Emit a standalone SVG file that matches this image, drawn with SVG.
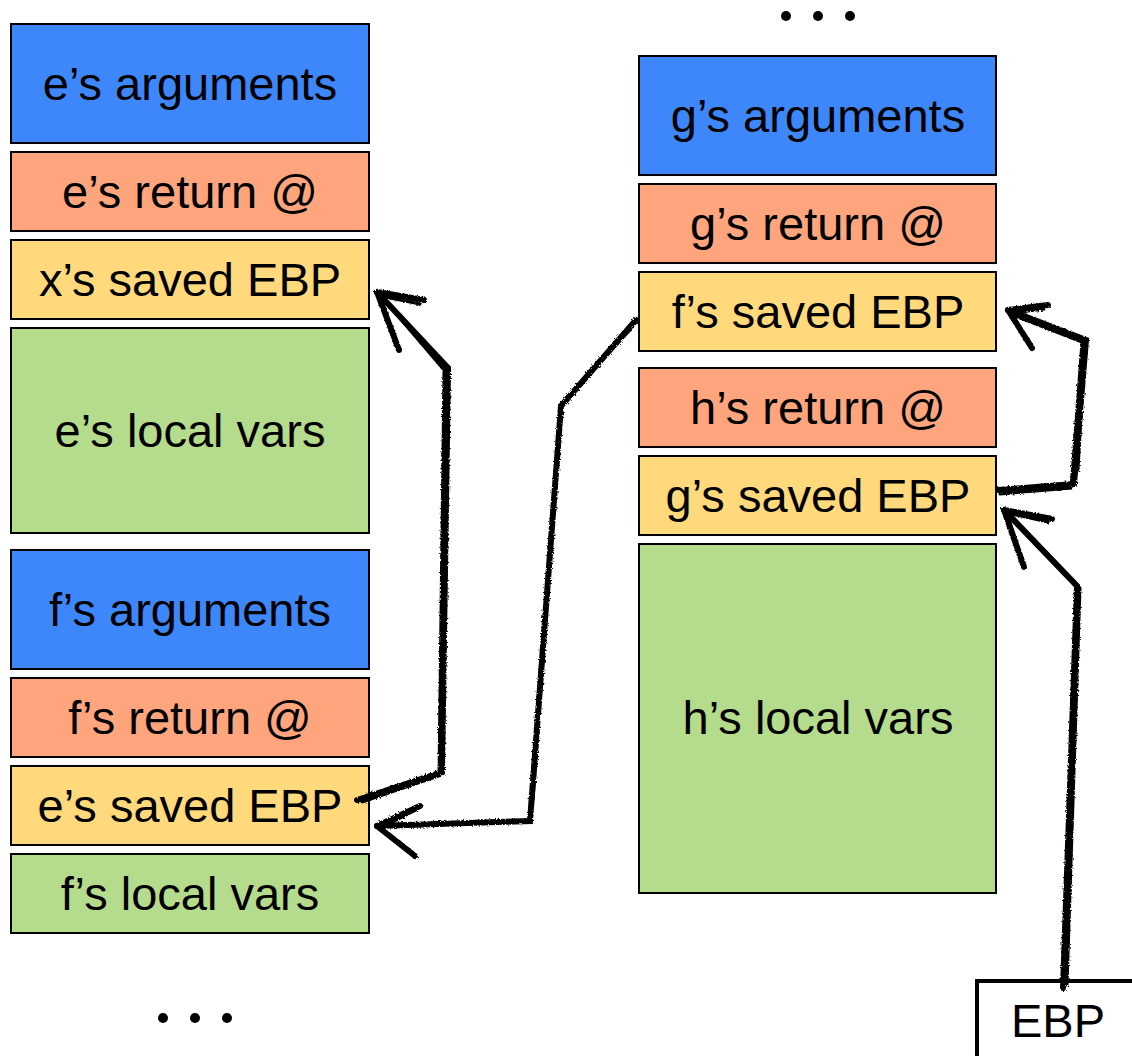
<svg xmlns="http://www.w3.org/2000/svg" width="1132" height="1056" viewBox="0 0 1132 1056">
<style>
.box{stroke:#000;stroke-width:2}
.arg{fill:#3d87fb}
.ret{fill:#ffa57d}
.ebp{fill:#ffd97c}
.loc{fill:#b5dc8c}
text{font-family:"Liberation Sans",Arial,sans-serif;font-size:47px;fill:#000;text-anchor:middle}
.arrow{fill:none;stroke:#000;stroke-width:6;stroke-linejoin:miter;stroke-linecap:round}
.thin{fill:none;stroke:#000;stroke-width:3;stroke-linecap:round}
</style>
<defs>
<filter id="rough" x="-5%" y="-5%" width="110%" height="110%">
<feTurbulence type="fractalNoise" baseFrequency="0.6" numOctaves="2" seed="3" result="n"/>
<feDisplacementMap in="SourceGraphic" in2="n" scale="3"/>
</filter>
</defs>
<rect width="1132" height="1056" fill="#fff"/>
<g id="e-args"><rect class="box arg" x="11" y="24" width="358" height="119"/><text x="190" y="100">e’s arguments</text></g>
<g id="e-ret"><rect class="box ret" x="11" y="152" width="358" height="79"/><text x="190" y="208">e’s return @</text></g>
<g id="x-ebp"><rect class="box ebp" x="11" y="240" width="358" height="79"/><text x="190" y="296">x’s saved EBP</text></g>
<g id="e-local"><rect class="box loc" x="11" y="328" width="358" height="205"/><text x="190" y="447">e’s local vars</text></g>
<g id="f-args"><rect class="box arg" x="11" y="550" width="358" height="119"/><text x="190" y="626">f’s arguments</text></g>
<g id="f-ret"><rect class="box ret" x="11" y="678" width="358" height="79"/><text x="190" y="734">f’s return @</text></g>
<g id="e-ebp"><rect class="box ebp" x="11" y="766" width="358" height="79"/><text x="190" y="822">e’s saved EBP</text></g>
<g id="f-local"><rect class="box loc" x="11" y="854" width="358" height="79"/><text x="190" y="910">f’s local vars</text></g>
<g id="g-args"><rect class="box arg" x="639" y="56" width="357" height="119"/><text x="818" y="132">g’s arguments</text></g>
<g id="g-ret"><rect class="box ret" x="639" y="184" width="357" height="79"/><text x="818" y="240">g’s return @</text></g>
<g id="f-ebp"><rect class="box ebp" x="639" y="272" width="357" height="79"/><text x="818" y="328">f’s saved EBP</text></g>
<g id="h-ret"><rect class="box ret" x="639" y="368" width="357" height="79"/><text x="818" y="424">h’s return @</text></g>
<g id="g-ebp"><rect class="box ebp" x="639" y="456" width="357" height="79"/><text x="818" y="512">g’s saved EBP</text></g>
<g id="h-local"><rect class="box loc" x="639" y="544" width="357" height="349"/><text x="818" y="734">h’s local vars</text></g>
<g id="ebp-reg"><path d="M977 1060 V981 H1136" fill="none" stroke="#000" stroke-width="4"/><text x="1058" y="1037">EBP</text></g>
<g id="dots-top"><circle cx="786" cy="16" r="5"/><circle cx="818" cy="16" r="5"/><circle cx="850" cy="16" r="5"/></g>
<g id="dots-bottom"><circle cx="163" cy="1018" r="5"/><circle cx="195" cy="1018" r="5"/><circle cx="227" cy="1018" r="5"/></g>
<g id="connectors" filter="url(#rough)">
<path class="arrow" d="M357 800 L442 772 L448 368 L377 292"/>
<path class="thin" d="M362 802 L439 776 L444 370 L380 295"/>
<path class="thin" d="M440 740 L445 420"/>
<path class="arrow" d="M377 292 L424 300 M377 292 L399 350"/>
<path class="thin" d="M380 296 L420 304 M380 296 L396 346"/>
<path class="arrow" d="M636 320 L561 406 L530 821 L377 826"/>
<path class="thin" d="M630 330 L563 402 M557 460 L533 800"/>
<path class="arrow" d="M377 826 L420 806 M377 826 L415 856"/>
<path class="thin" d="M381 828 L416 810 M381 828 L412 852"/>
<path class="arrow" d="M998 490 L1074 484 L1086 340 L1008 310"/>
<path class="thin" d="M1000 494 L1071 488 L1082 342 L1010 314"/>
<path class="thin" d="M1078 470 L1084 360"/>
<path class="arrow" d="M1008 310 L1048 305 M1008 310 L1032 348"/>
<path class="thin" d="M1011 313 L1044 309 M1011 313 L1029 344"/>
<path class="arrow" d="M1063 988 L1077 586 L1004 510"/>
<path class="thin" d="M1067 985 L1080 588 L1008 512"/>
<path class="thin" d="M1068 900 L1075 640"/>
<path class="arrow" d="M1004 510 L1052 519 M1004 510 L1024 567"/>
<path class="thin" d="M1007 513 L1048 522 M1007 513 L1022 562"/>
</g>
</svg>
